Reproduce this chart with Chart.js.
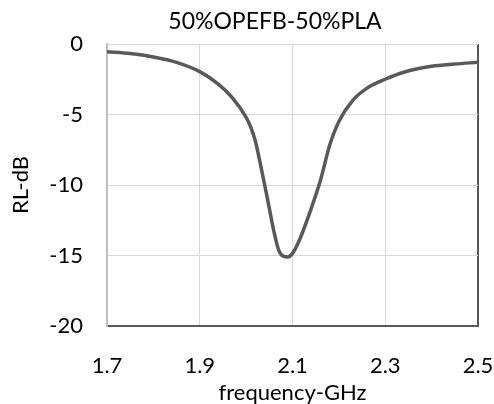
<!DOCTYPE html>
<html>
<head>
<meta charset="utf-8">
<script src="https://cdn.jsdelivr.net/npm/chart.js@4"></script>
<style>
html,body{margin:0;padding:0;background:#fff;}
#wrap{width:494px;height:404px;position:relative;}
</style>
</head>
<body>
<div id="wrap"><canvas id="c" width="494" height="404"></canvas></div>
<script>
const chartTitle = "50%OPEFB-50%PLA";
const xAxisTitle = "frequency-GHz";
const yAxisTitle = "RL-dB";
const frequencies = [1.70, 1.75, 1.80, 1.85, 1.90, 1.94, 1.97, 2.00, 2.01, 2.02, 2.03, 2.045, 2.06, 2.07, 2.08, 2.09, 2.10, 2.115, 2.14, 2.16, 2.18, 2.20, 2.23, 2.26, 2.30, 2.34, 2.40, 2.45, 2.50];
const rlValues = [-0.55, -0.68, -0.92, -1.3, -1.96, -2.85, -3.8, -5.2, -5.9, -6.9, -8.4, -10.8, -13.3, -14.6, -15.05, -15.1, -14.85, -13.9, -11.7, -9.7, -7.2, -5.5, -4.0, -3.15, -2.5, -2.0, -1.58, -1.42, -1.3];
const xTicks = [1.7, 1.9, 2.1, 2.3, 2.5];
const yTicks = [-20, -15, -10, -5, 0];

const points = frequencies.map((f, i) => ({x: f, y: rlValues[i]}));
const FONT = "Lato, 'Open Sans', sans-serif";
const textColor = '#000000';

const titlePlugin = {
  id: 'excelTitle',
  afterDraw(chart) {
    const ctx = chart.ctx;
    ctx.save();
    ctx.fillStyle = textColor;
    ctx.font = "23px " + FONT;
    ctx.textAlign = 'center';
    ctx.textBaseline = 'middle';
    ctx.fillText(chartTitle, 275, 22);
    ctx.restore();
  }
};

new Chart(document.getElementById('c'), {
  type: 'line',
  data: {
    datasets: [{
      data: points,
      borderColor: '#595959',
      borderWidth: 3.5,
      pointRadius: 0,
      fill: false,
      cubicInterpolationMode: 'monotone',
      borderCapStyle: 'round',
      borderJoinStyle: 'round'
    }]
  },
  plugins: [titlePlugin],
  options: {
    responsive: false,
    animation: false,
    devicePixelRatio: 1,
    layout: {padding: {left: 0, right: 16, top: 44, bottom: 0}},
    plugins: {
      legend: {display: false},
      tooltip: {enabled: false},
      title: {display: false}
    },
    scales: {
      x: {
        type: 'linear',
        min: xTicks[0],
        max: xTicks[xTicks.length - 1],
        afterBuildTicks: s => { s.ticks = xTicks.map(v => ({value: v})); },
        afterFit: s => { s.height = 78; s.paddingLeft = 0; s.paddingRight = 0; },
        ticks: {
          color: textColor,
          font: {family: FONT, size: 22, lineHeight: 1.2},
          padding: 27,
          maxRotation: 0,
          callback: v => Number(v).toFixed(1)
        },
        grid: {
          drawTicks: false,
          color: c => (c.tick && Math.abs(c.tick.value - 2.5) < 1e-6) ? '#595959' : '#d9d9d9',
          lineWidth: c => (c.tick && Math.abs(c.tick.value - 2.5) < 1e-6) ? 2 : 1
        },
        border: {display: true, color: '#595959', width: 2},
        title: {
          display: true,
          text: xAxisTitle,
          color: textColor,
          font: {family: FONT, size: 22, lineHeight: 1.0},
          padding: 0
        }
      },
      y: {
        type: 'linear',
        min: yTicks[0],
        max: yTicks[yTicks.length - 1],
        afterBuildTicks: s => { s.ticks = yTicks.map(v => ({value: v})); },
        afterFit: s => { s.width = 107; s.paddingTop = 0; s.paddingBottom = 0; },
        ticks: {
          color: textColor,
          font: {family: FONT, size: 22, lineHeight: 1.2},
          padding: 24
        },
        grid: {drawTicks: false, color: '#d9d9d9', lineWidth: 1},
        border: {display: true, color: '#bfbfbf', width: 2},
        title: {
          display: true,
          text: yAxisTitle,
          color: textColor,
          font: {family: FONT, size: 22, lineHeight: 1.2},
          padding: 8
        }
      }
    }
  }
});
</script>
</body>
</html>
